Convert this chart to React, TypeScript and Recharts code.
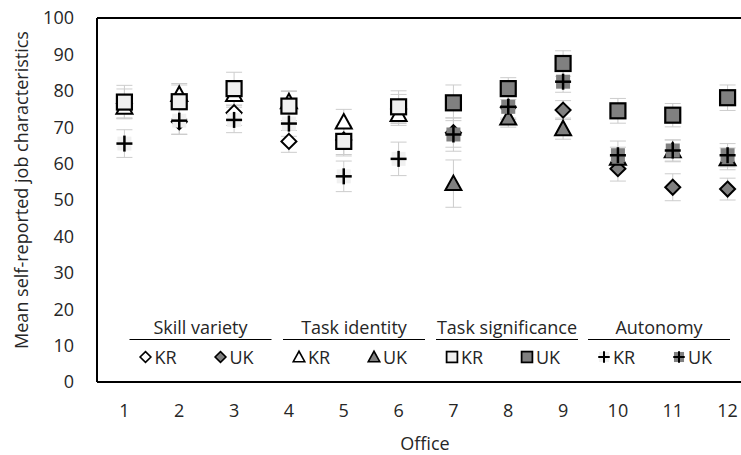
import React from 'react';
import { ScatterChart, Scatter, XAxis, YAxis, ErrorBar, ReferenceLine } from 'recharts';

// Offices: KR offices 1-6, UK offices 7-12
const krOffices = [1, 2, 3, 4, 5, 6];
const ukOffices = [7, 8, 9, 10, 11, 12];
const xTicks = [1, 2, 3, 4, 5, 6, 7, 8, 9, 10, 11, 12];
const yTicks = [0, 10, 20, 30, 40, 50, 60, 70, 80, 90, 100];

// Skill variety
const skillKR = [76.5, 71.5, 74, 66.1, 66.5, 75];
const skillKRErr = [4, 3.5, 3.5, 3, 4, 4];
const skillUK = [68.5, 75.5, 74.7, 58.6, 53.5, 53];
const skillUKErr = [4, 3, 2.6, 3.4, 3.7, 3];
// Task identity
const identKR = [75.5, 79, 79, 77, 71.4, 73.5];
const identKRErr = [3, 3, 3, 3, 3.5, 3];
const identUK = [54.5, 72.5, 69.6, 61.5, 63.5, 61.3];
const identUKErr = [6.5, 2.5, 2.9, 3, 3, 3];
// Task significance
const signifKR = [76.9, 77, 80.6, 75.8, 66.1, 75.6];
const signifKRErr = [4.6, 4.6, 4.5, 4, 4, 4.4];
const signifUK = [76.7, 80.6, 87.5, 74.5, 73.3, 78.1];
const signifUKErr = [4.9, 3, 3.5, 3.4, 3.2, 3.5];
// Autonomy
const autoKR = [65.5, 71.8, 72, 71, 56.5, 61.3];
const autoKRErr = [3.8, 3.7, 3.5, 3.5, 4.2, 4.6];
const autoUK = [68, 75.6, 82.5, 62.3, 63.6, 62.3];
const autoUKErr = [4.6, 3.5, 2.9, 3.9, 2.9, 3.2];

const groupTitles = ['Skill variety', 'Task identity', 'Task significance', 'Autonomy'];
const countryLabels = ['KR', 'UK'];

const FONT = '"Open Sans", sans-serif';
const FS = 18;
const TEXT = '#262626';
const KR_FILL = '#ffffff';
const KR_BOX = '#f0f0f0';
const UK_FILL = '#808080';
const ERR = '#cccccc';

const build = (xs: number[], ys: number[], es: number[]) =>
  xs.map((x, i) => ({ x, y: ys[i], err: es[i] }));

type MP = { cx: number; cy: number; fill: string; s?: number };

const Diamond = ({ cx, cy, fill, s = 1 }: MP) => {
  const r = 7.5 * s;
  return (
    <polygon
      points={`${cx},${cy - r} ${cx + r},${cy} ${cx},${cy + r} ${cx - r},${cy}`}
      fill={fill}
      stroke="#000"
      strokeWidth={2 * Math.max(s, 0.8)}
    />
  );
};
const Triangle = ({ cx, cy, fill, s = 1 }: MP) => {
  const w = 8 * s;
  return (
    <polygon
      points={`${cx},${cy - 8 * s} ${cx + w},${cy + 6.5 * s} ${cx - w},${cy + 6.5 * s}`}
      fill={fill}
      stroke="#000"
      strokeWidth={2 * Math.max(s, 0.8)}
    />
  );
};
const Square = ({ cx, cy, fill, s = 1 }: MP) => {
  const h = 7.5 * s;
  return (
    <rect x={cx - h} y={cy - h} width={2 * h} height={2 * h} fill={fill} stroke="#000" strokeWidth={2.2 * Math.max(s, 0.8)} />
  );
};
const Plus = ({ cx, cy, fill, s = 1 }: MP) => {
  const h = 7 * s;
  const a = 8 * s;
  return (
    <g>
      <rect x={cx - h} y={cy - h} width={2 * h} height={2 * h} fill={fill} />
      <line x1={cx - a} y1={cy} x2={cx + a} y2={cy} stroke="#000" strokeWidth={2.5 * Math.max(s, 0.8)} />
      <line x1={cx} y1={cy - a} x2={cx} y2={cy + a} stroke="#000" strokeWidth={2.5 * Math.max(s, 0.8)} />
    </g>
  );
};

const shapeOf = (Comp: any, fill: string) => (props: any) => {
  if (props.cx == null || props.cy == null || isNaN(props.cy)) return <g />;
  return <Comp cx={props.cx} cy={props.cy} fill={fill} />;
};

const series = [
  { name: 'skillKR', data: build(krOffices, skillKR, skillKRErr), shape: shapeOf(Diamond, KR_FILL) },
  { name: 'skillUK', data: build(ukOffices, skillUK, skillUKErr), shape: shapeOf(Diamond, UK_FILL) },
  { name: 'identKR', data: build(krOffices, identKR, identKRErr), shape: shapeOf(Triangle, KR_FILL) },
  { name: 'identUK', data: build(ukOffices, identUK, identUKErr), shape: shapeOf(Triangle, UK_FILL) },
  { name: 'signifKR', data: build(krOffices, signifKR, signifKRErr), shape: shapeOf(Square, KR_BOX) },
  { name: 'signifUK', data: build(ukOffices, signifUK, signifUKErr), shape: shapeOf(Square, UK_FILL) },
  { name: 'autoKR', data: build(krOffices, autoKR, autoKRErr), shape: shapeOf(Plus, KR_BOX) },
  { name: 'autoUK', data: build(ukOffices, autoUK, autoUKErr), shape: shapeOf(Plus, UK_FILL) },
];

const legendMarkers = [
  [Diamond, KR_FILL, UK_FILL],
  [Triangle, KR_FILL, UK_FILL],
  [Square, KR_BOX, UK_FILL],
  [Plus, KR_BOX, UK_FILL],
] as const;
const groupCenters = [200.5, 354, 507, 659];

const LegendOverlay = () => (
  <svg width={741} height={455} style={{ position: 'absolute', left: 0, top: 0, pointerEvents: 'none' }}>
    {groupTitles.map((t, i) => {
      const c = groupCenters[i];
      const [M, kf, uf] = legendMarkers[i] as any;
      return (
        <g key={t} fontFamily={FONT} fontSize={FS} fill={TEXT}>
          <text x={c} y={333.5} textAnchor="middle">{t}</text>
          <line x1={c - 71} x2={c + 71} y1={339.5} y2={339.5} stroke="#000" strokeWidth={1.2} />
          <M cx={c - 55} cy={357} fill={kf} s={0.72} />
          <text x={c - 46} y={363.5}>{countryLabels[0]}</text>
          <M cx={c + 20} cy={357} fill={uf} s={0.72} />
          <text x={c + 29} y={363.5}>{countryLabels[1]}</text>
        </g>
      );
    })}
  </svg>
);

const YLabel = () => (
  <text
    x={21}
    y={190}
    transform="rotate(-90 21 190)"
    textAnchor="middle"
    dominantBaseline="central"
    fontFamily={FONT}
    fontSize={FS}
    fill={TEXT}
  >
    Mean self-reported job characteristics
  </text>
);

const XLabel = () => (
  <text x={425} y={450} textAnchor="middle" fontFamily={FONT} fontSize={FS} fill={TEXT}>
    Office
  </text>
);

export default function App() {
  return (
    <div style={{ position: 'absolute', left: 0, top: 0, width: 741, height: 455, overflow: 'hidden', background: '#fff' }}>
      <ScatterChart width={770} height={455} margin={{ top: 18, right: 15, bottom: 0, left: 0 }}>
        <XAxis
          type="number"
          dataKey="x"
          domain={[0.5, 12.5]}
          ticks={xTicks}
          interval={0}
          height={73}
          tickLine={false}
          tickSize={0}
          tickMargin={22}
          axisLine={{ stroke: '#000', strokeWidth: 2 }}
          tick={{ fontFamily: FONT, fontSize: FS, fill: TEXT }}
          label={<XLabel />}
          allowDataOverflow
        />
        <YAxis
          type="number"
          dataKey="y"
          domain={[0, 100]}
          ticks={yTicks}
          interval={0}
          width={97}
          tickLine={false}
          tickSize={0}
          tickMargin={23}
          axisLine={{ stroke: '#000', strokeWidth: 2 }}
          tick={{ fontFamily: FONT, fontSize: FS, fill: TEXT }}
          label={<YLabel />}
          allowDataOverflow
        />
        <ReferenceLine y={100} stroke="#000" strokeWidth={2} ifOverflow="visible" />
        {series.map((s) => (
          <Scatter key={s.name} name={s.name} data={s.data} shape={s.shape} isAnimationActive={false}>
            <ErrorBar dataKey="err" direction="y" width={8} stroke={ERR} strokeWidth={1} />
          </Scatter>
        ))}
      </ScatterChart>
      <LegendOverlay />
    </div>
  );
}
